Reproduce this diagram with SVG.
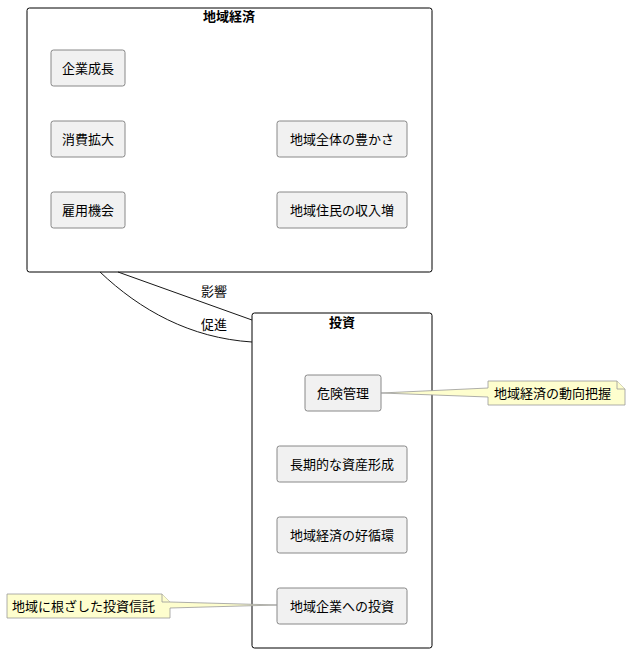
<svg xmlns="http://www.w3.org/2000/svg" width="631" height="653" viewBox="0 0 631 653">
<style>
text{font-family:"Noto Sans CJK JP","Liberation Sans",sans-serif;font-size:13px;fill:#000}
.c{fill:#fff;stroke:#000;stroke-width:1}
.ct{font-weight:bold;text-anchor:middle}
.n{fill:#f1f1f1;stroke:#888;stroke-width:1}
.nt{text-anchor:middle}
.note{fill:#fefece;stroke:#999;stroke-width:0.8}
.e{fill:none;stroke:#181818;stroke-width:1}
</style>
<rect width="631" height="653" fill="#fff"/>
<g id="c1"><rect class="c" x="27" y="8" width="405" height="264" rx="2.5"/><text class="ct" x="229" y="21">地域経済</text></g>
<g id="c2"><rect class="c" x="252" y="313" width="180" height="335" rx="2.5"/><text class="ct" x="342" y="327">投資</text></g>
<g id="n1"><rect class="n" x="51" y="50" width="74" height="36" rx="2.5"/><text class="nt" x="88" y="73">企業成長</text></g>
<g id="n2"><rect class="n" x="51" y="121" width="74" height="36" rx="2.5"/><text class="nt" x="88" y="144">消費拡大</text></g>
<g id="n3"><rect class="n" x="51" y="192" width="74" height="36" rx="2.5"/><text class="nt" x="88" y="215">雇用機会</text></g>
<g id="n4"><rect class="n" x="277" y="121" width="130" height="36" rx="2.5"/><text class="nt" x="342" y="144">地域全体の豊かさ</text></g>
<g id="n5"><rect class="n" x="277" y="192" width="130" height="36" rx="2.5"/><text class="nt" x="342" y="215">地域住民の収入増</text></g>
<g id="n6"><rect class="n" x="305" y="375" width="76" height="36" rx="2.5"/><text class="nt" x="343" y="398">危険管理</text></g>
<g id="n7"><rect class="n" x="277" y="446" width="130" height="36" rx="2.5"/><text class="nt" x="342" y="469">長期的な資産形成</text></g>
<g id="n8"><rect class="n" x="277" y="517" width="130" height="36" rx="2.5"/><text class="nt" x="342" y="540">地域経済の好循環</text></g>
<g id="n9"><rect class="n" x="277" y="588" width="130" height="36" rx="2.5"/><text class="nt" x="342" y="611">地域企業への投資</text></g>
<g id="note1"><path class="note" d="M488,381 H617 L625,389 V405 H488 V397 L381,393 L488,388 Z"/><path class="note" d="M617,381 V389 H625"/><text x="494" y="398">地域経済の動向把握</text></g>
<g id="note2"><path class="note" d="M7,594 H162 L170,602 V602 L277,605 L170,608 V618 H7 Z"/><path class="note" d="M162,594 V602 H170"/><text x="12" y="611">地域に根ざした投資信託</text></g>
<g id="edges">
<path class="e" d="M118,272 L252,320"/>
<path class="e" d="M100,272 C140,310 190,338 252,342"/>
<text x="201" y="296" font-size="12">影響</text>
<text x="201" y="329">促進</text>
</g>
</svg>
